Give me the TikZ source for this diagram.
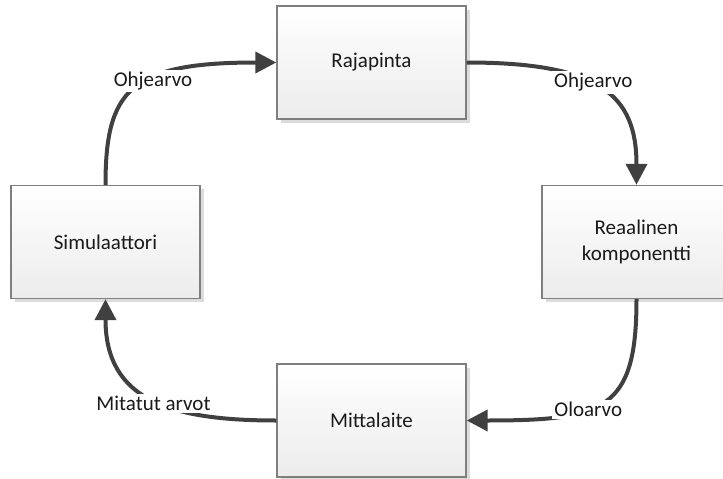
\documentclass[tikz,border=0pt]{standalone}
\usepackage{fontspec}
\setmainfont{Carlito}
\usetikzlibrary{arrows.meta,shadows}

\definecolor{edgegray}{HTML}{7F7F7F}
\definecolor{fillbottom}{HTML}{ECECEC}
\definecolor{shadowgray}{HTML}{DCDCDC}
\definecolor{wiregray}{HTML}{404040}
\definecolor{inkgray}{HTML}{1A1A1A}

\tikzset{
  labelfont/.style={font=\fontsize{21}{25.6}\selectfont, text=inkgray},
  block/.style={labelfont, draw=edgegray, line width=1.4pt,
    top color=white, bottom color=fillbottom,
    minimum width=189pt, minimum height=113pt, align=center,
    drop shadow={shadow xshift=3.5pt, shadow yshift=-3.5pt,
      fill=shadowgray, opacity=1}},
  flow/.style={draw=wiregray, line width=4pt,
    -{Triangle[length=21pt,width=21pt]}},
  tag/.style={labelfont, fill=white, inner sep=2pt}
}

\begin{document}
\begin{tikzpicture}[x=1pt,y=-1pt]
  \useasboundingbox (0,0) rectangle (723,479);

  % blocks
  \node[block] (raja) at (371.5,62.5)  {Rajapinta};
  \node[block] (sim)  at (105.5,242)   {Simulaattori};
  \node[block] (real) at (636.5,242)   {Reaalinen\\komponentti};
  \node[block] (mitt) at (371.5,420.5) {Mittalaite};

  % control loop
  \draw[flow] (sim.north) .. controls (105.5,90) and (130,62.5) .. (raja.west)
    node[tag, pos=0.6, yshift=-3pt] {Ohjearvo};
  \draw[flow] (raja.east) .. controls (600,62.5) and (636.5,95) .. (real.north)
    node[tag, pos=0.45, yshift=2pt] {Ohjearvo};
  \draw[flow] (real.south) .. controls (636.5,410) and (605,420.5) .. (mitt.east)
    node[tag, pos=0.6, xshift=2pt] {Oloarvo};
  \draw[flow] (mitt.west) .. controls (170,420.5) and (105.5,400) .. (sim.south)
    node[tag, pos=0.47, xshift=-3pt, yshift=-3pt] {Mitatut arvot};
\end{tikzpicture}
\end{document}
